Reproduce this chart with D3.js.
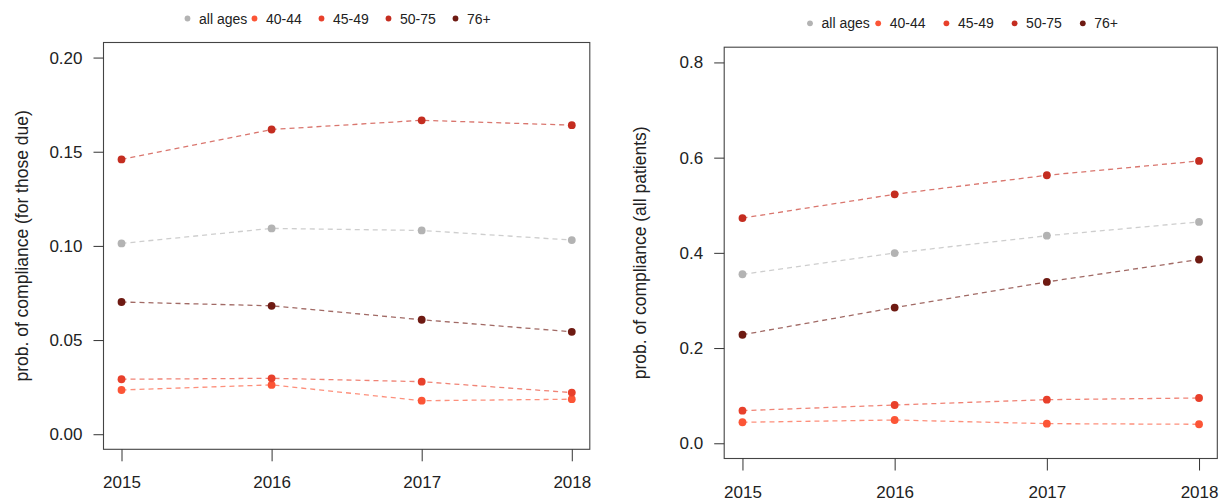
<!DOCTYPE html>
<html>
<head>
<meta charset="utf-8">
<script src="https://cdn.jsdelivr.net/npm/d3@7"></script>
<style>
  html, body { margin: 0; padding: 0; background: #fff; }
  svg { display: block; font-family: "Liberation Sans", Arial, Helvetica, sans-serif; }
</style>
</head>
<body>
<svg id="chart" width="1226" height="503"></svg>
<script>
// ---- data ----
const years = [2015, 2016, 2017, 2018];
const groups = ["all ages", "40-44", "45-49", "50-75", "76+"];
const groupColors = ["#b3b3b3", "#fc5536", "#e8402b", "#c42d20", "#6e1a12"];

// probability of compliance for those due
const dueAllAges = [0.1013, 0.1093, 0.1082, 0.1031];
const due4044    = [0.0235, 0.0262, 0.0178, 0.0186];
const due4549    = [0.0292, 0.0297, 0.0279, 0.0221];
const due5075    = [0.1459, 0.1618, 0.1667, 0.1641];
const due76      = [0.0702, 0.0682, 0.0608, 0.0544];

// probability of compliance for all patients
const allAllAges = [0.355, 0.3996, 0.436, 0.465];
const all4044    = [0.0441, 0.0489, 0.0412, 0.0399];
const all4549    = [0.0685, 0.0804, 0.0916, 0.0951];
const all5075    = [0.473, 0.523, 0.563, 0.593];
const all76      = [0.228, 0.285, 0.339, 0.386];

const leftTicks  = [0, 0.05, 0.10, 0.15, 0.20];
const rightTicks = [0, 0.2, 0.4, 0.6, 0.8];
const leftTickLabels  = ["0.00", "0.05", "0.10", "0.15", "0.20"];
const rightTickLabels = ["0.0", "0.2", "0.4", "0.6", "0.8"];

const svg = d3.select("#chart");

function drawPanel(cfg) {
  const g = svg.append("g");
  const xPad = (years[years.length - 1] - years[0]) * 0.04;
  const yMin = cfg.yDomain[0], yMax = cfg.yDomain[1];
  const yPad = (yMax - yMin) * 0.04;
  const x = d3.scaleLinear().domain([years[0] - xPad, years[years.length - 1] + xPad]).range([cfg.left, cfg.right]);
  const y = d3.scaleLinear().domain([yMin - yPad, yMax + yPad]).range([cfg.bottom, cfg.top]);

  // lines + points
  const line = d3.line().x((d, i) => x(years[i])).y(d => y(d));
  cfg.series.forEach((s, k) => {
    g.append("path")
      .attr("d", line(s))
      .attr("fill", "none")
      .attr("stroke", groupColors[k])
      .attr("stroke-opacity", 0.65)
      .attr("stroke-width", 1.3)
      .attr("stroke-dasharray", "5,4");
  });
  cfg.series.forEach((s, k) => {
    g.selectAll(null).data(s).enter().append("circle")
      .attr("cx", (d, i) => x(years[i]))
      .attr("cy", d => y(d))
      .attr("r", 3.9)
      .attr("fill", groupColors[k]);
  });

  // box
  g.append("rect")
    .attr("x", cfg.left).attr("y", cfg.top)
    .attr("width", cfg.right - cfg.left).attr("height", cfg.bottom - cfg.top)
    .attr("fill", "none").attr("stroke", "#444").attr("stroke-width", 1.1);

  // y axis
  const yAxis = d3.axisLeft(y).tickValues(cfg.yTicks)
    .tickFormat((d, i) => cfg.yTickLabels[i])
    .tickSizeOuter(0).tickSizeInner(10).tickPadding(11);
  const ya = g.append("g").attr("transform", `translate(${cfg.left},0)`).call(yAxis);
  ya.select(".domain").remove();
  ya.selectAll("line").attr("stroke", "#333");
  ya.selectAll("text").attr("font-size", 17).attr("fill", "#222")
    .attr("font-family", "Liberation Sans, Arial, sans-serif");

  // x axis
  const xAxis = d3.axisBottom(x).tickValues(years).tickFormat(d3.format("d"))
    .tickSizeOuter(0).tickSizeInner(12).tickPadding(15);
  const xa = g.append("g").attr("transform", `translate(0,${cfg.bottom})`).call(xAxis);
  xa.select(".domain").remove();
  xa.selectAll("line").attr("stroke", "#333");
  xa.selectAll("text").attr("font-size", 17).attr("fill", "#222")
    .attr("font-family", "Liberation Sans, Arial, sans-serif");

  // y label
  g.append("text")
    .attr("transform", `translate(${cfg.yLabelX},${(cfg.top + cfg.bottom) / 2}) rotate(-90)`)
    .attr("text-anchor", "middle")
    .attr("dominant-baseline", "central")
    .attr("font-size", 17.5)
    .attr("fill", "#222")
    .text(cfg.yLabel);

  // legend
  const lg = g.append("g");
  groups.forEach((name, k) => {
    const cx = cfg.legendX + k * cfg.legendStep;
    lg.append("circle").attr("cx", cx).attr("cy", cfg.legendY).attr("r", 2.9).attr("fill", groupColors[k]);
    lg.append("text").attr("x", cx + 11.5).attr("y", cfg.legendY)
      .attr("dominant-baseline", "central")
      .attr("font-size", 14).attr("fill", "#222").text(name);
  });
}

drawPanel({
  left: 103.5, right: 589.8, top: 42.5, bottom: 449.3,
  yDomain: [0, 0.2], yTicks: leftTicks, yTickLabels: leftTickLabels,
  series: [dueAllAges, due4044, due4549, due5075, due76],
  yLabel: "prob. of compliance (for those due)", yLabelX: 21.5,
  legendX: 187.5, legendStep: 67.0, legendY: 18.5
});

drawPanel({
  left: 724.2, right: 1217.3, top: 47.2, bottom: 458.5,
  yDomain: [0, 0.8], yTicks: rightTicks, yTickLabels: rightTickLabels,
  series: [allAllAges, all4044, all4549, all5075, all76],
  yLabel: "prob. of compliance (all patients)", yLabelX: 640,
  legendX: 810, legendStep: 68.2, legendY: 23.3
});
</script>
</body>
</html>
